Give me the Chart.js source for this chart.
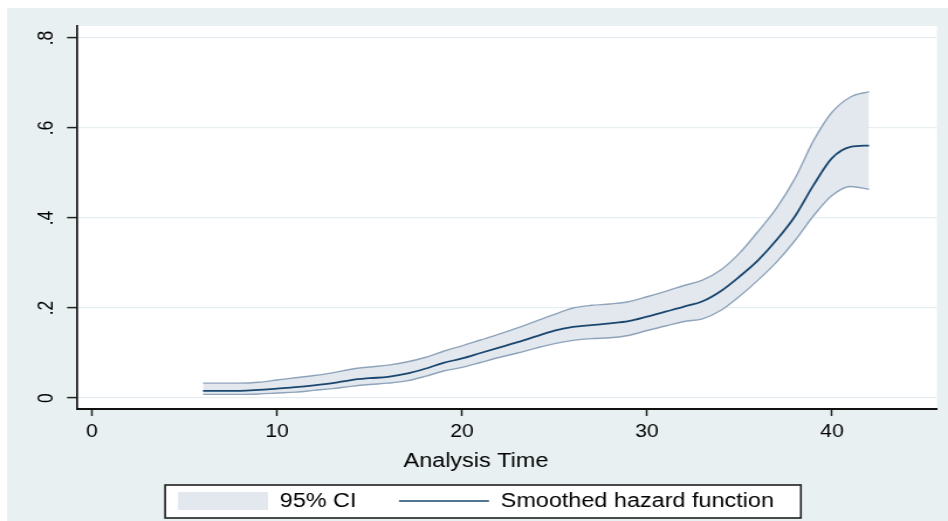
<!DOCTYPE html>
<html>
<head>
<meta charset="utf-8">
<script src="https://cdn.jsdelivr.net/npm/chart.js@4.4.1/dist/chart.umd.min.js"></script>
<style>
  html, body { margin: 0; padding: 0; background: #ffffff; overflow: hidden; }
  /* the graph is laid out on a narrower canvas and widened horizontally */
  #wrap { width: 810px; height: 521px; transform: scaleX(1.17037); transform-origin: 0 0; }
  #c { width: 810px; height: 521px; display: block; }
</style>
</head>
<body>
<div id="wrap"><canvas id="c" width="810" height="521"></canvas></div>
<script>
// Analysis time (x) and smoothed hazard estimate with its 95% confidence band
const times   = [6, 7, 8, 9, 10, 11, 12, 13, 14, 15, 16, 17, 18, 19, 20, 21, 22, 23, 24, 25,
                 26, 27, 28, 29, 30, 31, 32, 33, 34, 35, 36, 37, 38, 39, 40, 41, 42];
const hazard  = [0.016, 0.016, 0.016, 0.018, 0.021, 0.024, 0.028, 0.033, 0.040, 0.044,
                 0.047, 0.054, 0.065, 0.078, 0.088, 0.100, 0.112, 0.124, 0.137, 0.150,
                 0.158, 0.162, 0.166, 0.171, 0.181, 0.192, 0.203, 0.215, 0.238, 0.270,
                 0.306, 0.351, 0.404, 0.473, 0.533, 0.558, 0.561];
const ciUpper = [0.033, 0.033, 0.033, 0.035, 0.040, 0.045, 0.050, 0.056, 0.064, 0.069,
                 0.073, 0.080, 0.090, 0.104, 0.116, 0.129, 0.142, 0.156, 0.171, 0.186,
                 0.200, 0.206, 0.209, 0.214, 0.225, 0.237, 0.250, 0.262, 0.285, 0.322,
                 0.370, 0.422, 0.488, 0.572, 0.635, 0.669, 0.681];
const ciLower = [0.008, 0.008, 0.008, 0.009, 0.011, 0.013, 0.017, 0.021, 0.026, 0.030,
                 0.033, 0.038, 0.048, 0.060, 0.068, 0.079, 0.090, 0.100, 0.111, 0.121,
                 0.128, 0.132, 0.134, 0.139, 0.150, 0.160, 0.170, 0.176, 0.195, 0.226,
                 0.262, 0.302, 0.350, 0.405, 0.450, 0.470, 0.464];

const xTickValues = [0, 10, 20, 30, 40];
const xTickLabels = ['0', '10', '20', '30', '40'];
const yTickValues = [0, 0.2, 0.4, 0.6, 0.8];
const yTickLabels = ['0', '.2', '.4', '.6', '.8'];
const legendLabels = ['95% CI', 'Smoothed hazard function'];
const xTitle = 'Analysis Time';

const FONT = 'Liberation Sans, Arial, Helvetica, sans-serif';
const NAVY = '#1a476f';
const CI_FILL = '#e3e7ee';
const CI_LINE = '#8fa4bb';
const BG = '#e8f0f2';
const GRID = '#e6eef1';

const toPoints = arr => times.map((t, i) => ({ x: t, y: arr[i] }));

// page background, white plot region and the framed legend
const backdrop = {
  id: 'backdrop',
  beforeDraw(chart) {
    const { ctx, chartArea: a, width, height } = chart;
    ctx.save();
    ctx.fillStyle = '#ffffff';
    ctx.fillRect(0, 0, width, height);
    ctx.fillStyle = BG;
    ctx.fillRect(6, 8, width - 6, height - 8);
    ctx.fillStyle = '#ffffff';
    ctx.fillRect(a.left, a.top, a.right - a.left, a.bottom - a.top);
    const hb = chart.legend && chart.legend.legendHitBoxes;
    if (hb && hb.length) {
      const last = hb[hb.length - 1];
      const l = hb[0].left - 11, r = last.left + last.width + 23;
      const t = hb[0].top - 6, b = hb[0].top + hb[0].height + 7;
      ctx.fillRect(l, t, r - l, b - t);
      ctx.strokeStyle = '#1e1e1e';
      ctx.lineWidth = 1.6;
      ctx.strokeRect(l, t, r - l, b - t);
    }
    ctx.restore();
  }
};

new Chart(document.getElementById('c'), {
  type: 'line',
  data: {
    datasets: [
      { label: legendLabels[1], data: toPoints(hazard), borderColor: NAVY, borderWidth: 1.8,
        pointRadius: 0, fill: false, cubicInterpolationMode: 'monotone' },
      { label: 'upper', data: toPoints(ciUpper), borderColor: CI_LINE, borderWidth: 1.4,
        backgroundColor: CI_FILL, fill: '+1', pointRadius: 0, cubicInterpolationMode: 'monotone' },
      { label: 'lower', data: toPoints(ciLower), borderColor: CI_LINE, borderWidth: 1.4,
        fill: false, pointRadius: 0, cubicInterpolationMode: 'monotone' }
    ]
  },
  options: {
    responsive: false,
    animation: false,
    events: [],
    layout: { padding: { top: 26, right: 9.4, bottom: 0, left: 12.8 } },
    scales: {
      x: {
        type: 'linear',
        min: -0.8108, max: 45.676,
        afterBuildTicks: s => { s.ticks = xTickValues.map(v => ({ value: v })); },
        afterFit: s => { s.height = 31; },
        grid: { drawOnChartArea: false, drawTicks: true, tickLength: 7, tickColor: '#222', tickWidth: 1.5 },
        border: { display: true, color: '#111', width: 2 },
        ticks: { padding: 5, color: '#000', autoSkip: false, maxRotation: 0,
                 font: { size: 18, family: FONT },
                 callback: (v, i) => xTickLabels[i] }
      },
      y: {
        type: 'linear',
        min: -0.0244, max: 0.8267,
        afterBuildTicks: s => { s.ticks = yTickValues.map(v => ({ value: v })); },
        afterFit: s => { s.width = 53; },
        grid: { color: GRID, lineWidth: 1.2, drawTicks: true, tickLength: 8.5, tickColor: '#222', tickWidth: 1.5 },
        border: { display: true, color: '#111', width: 1.7 },
        ticks: { padding: 9.5, crossAlign: 'center', minRotation: 90, maxRotation: 90,
                 autoSkip: false, color: '#000', font: { size: 17.5, family: FONT },
                 callback: (v, i) => yTickLabels[i] }
      }
    },
    plugins: {
      filler: { drawTime: 'beforeDatasetsDraw' },
      tooltip: { enabled: false },
      title: {
        display: true, text: xTitle, position: 'bottom', weight: 500, fullSize: true,
        color: '#000', font: { size: 20, weight: 'normal', family: FONT, lineHeight: 1.2 },
        padding: { top: 9.2, bottom: -18.5 }
      },
      legend: {
        display: true, position: 'bottom', align: 'center', onClick: null,
        labels: {
          usePointStyle: true, pointStyleWidth: 76.9, boxHeight: 18, padding: 36.3,
          color: '#000', font: { size: 20, family: FONT },
          generateLabels: () => [
            { text: legendLabels[0], fillStyle: CI_FILL, strokeStyle: CI_FILL, lineWidth: 0,
              pointStyle: 'rect', hidden: false, datasetIndex: 1 },
            { text: legendLabels[1], fillStyle: NAVY, strokeStyle: NAVY, lineWidth: 1.6,
              pointStyle: 'line', hidden: false, datasetIndex: 0 }
          ]
        }
      }
    }
  },
  plugins: [backdrop]
});
</script>
</body>
</html>
